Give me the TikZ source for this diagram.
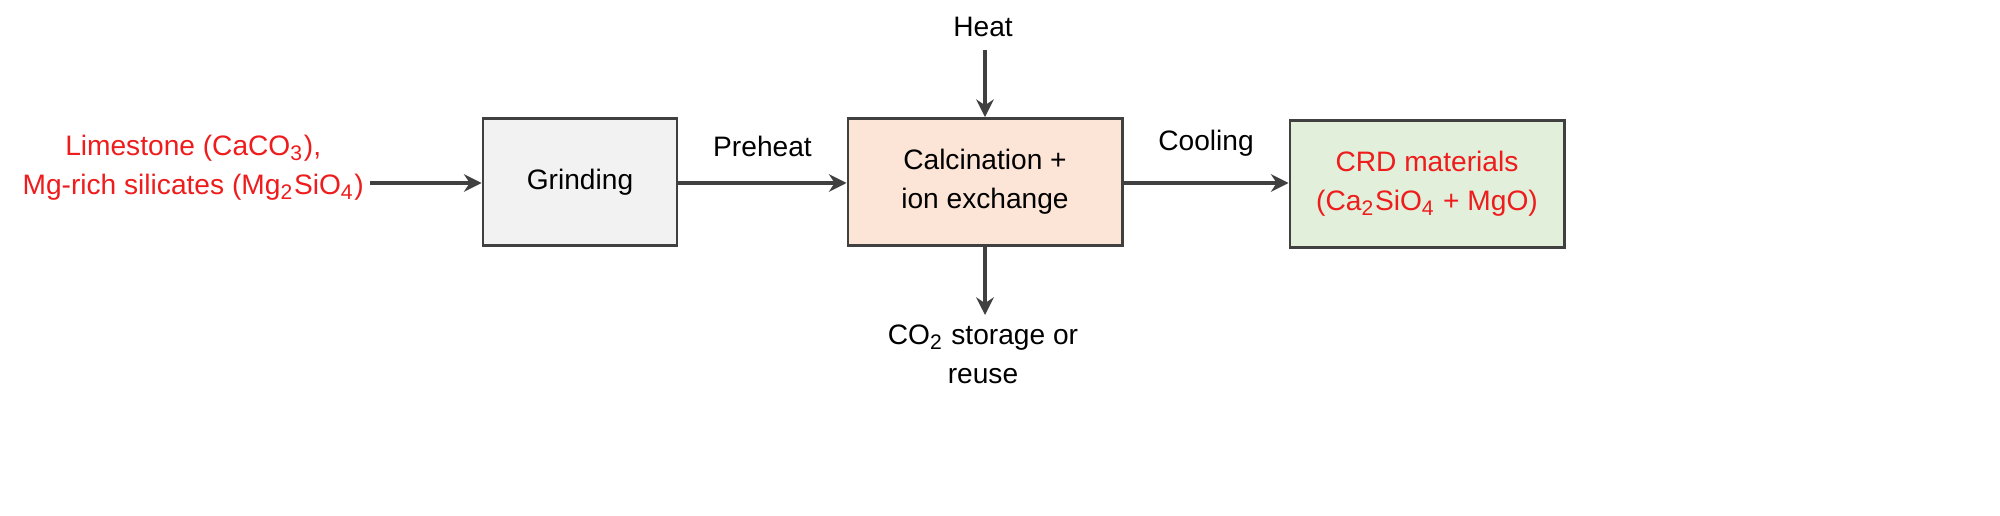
\documentclass[tikz,border=0pt]{standalone}
\usepackage{fontspec}
\setmainfont{Liberation Sans}
\usetikzlibrary{arrows.meta}
\definecolor{rd}{HTML}{EE1C1C}
\definecolor{gbox}{HTML}{F2F2F2}
\definecolor{pbox}{HTML}{FCE4D6}
\definecolor{grbox}{HTML}{E2EFDA}
\definecolor{ln}{HTML}{404040}
\begin{document}
\begin{tikzpicture}[x=0.01cm,y=-0.01cm,
  every node/.style={font=\fontsize{8}{11}\selectfont, align=center, inner sep=1pt},
  box/.style={draw=ln, line width=0.8pt, minimum width=1.94cm, minimum height=1.27cm},
  arr/.style={draw=ln, line width=0.9pt, -{Stealth[length=5pt,width=5pt]}}]
\useasboundingbox (0,0) rectangle (2000,516);
\node[box, fill=gbox] (g) at (580,182) {Grinding};
\node[box, fill=pbox, minimum width=2.74cm] (c) at (985,182) {Calcination +\\ion exchange};
\node[box, fill=grbox, minimum width=2.74cm] (r) at (1427,184) {\textcolor{rd}{CRD materials}\\\textcolor{rd}{(Ca\textsubscript{2}SiO\textsubscript{4} + MgO)}};
\node[text=rd, anchor=east] (l) at (368,168) {Limestone (CaCO\textsubscript{3}),\\Mg-rich silicates (Mg\textsubscript{2}SiO\textsubscript{4})};
\node (h) at (983,27) {Heat};
\node (s) at (983,354) {CO\textsubscript{2} storage or\\reuse};
\coordinate (la) at (370,183);
\coordinate (ht) at (985,50);
\coordinate (sb) at (985,315);
\draw[arr] (la) -- (g.west |- la);
\draw[arr] (g.east |- la) -- node[above=6pt]{Preheat} (c.west |- la);
\draw[arr] (c.east |- la) -- node[above=6pt]{Cooling} (r.west |- la);
\draw[arr] (ht) -- (c.north);
\draw[arr] (c.south) -- (sb);
\end{tikzpicture}
\end{document}
